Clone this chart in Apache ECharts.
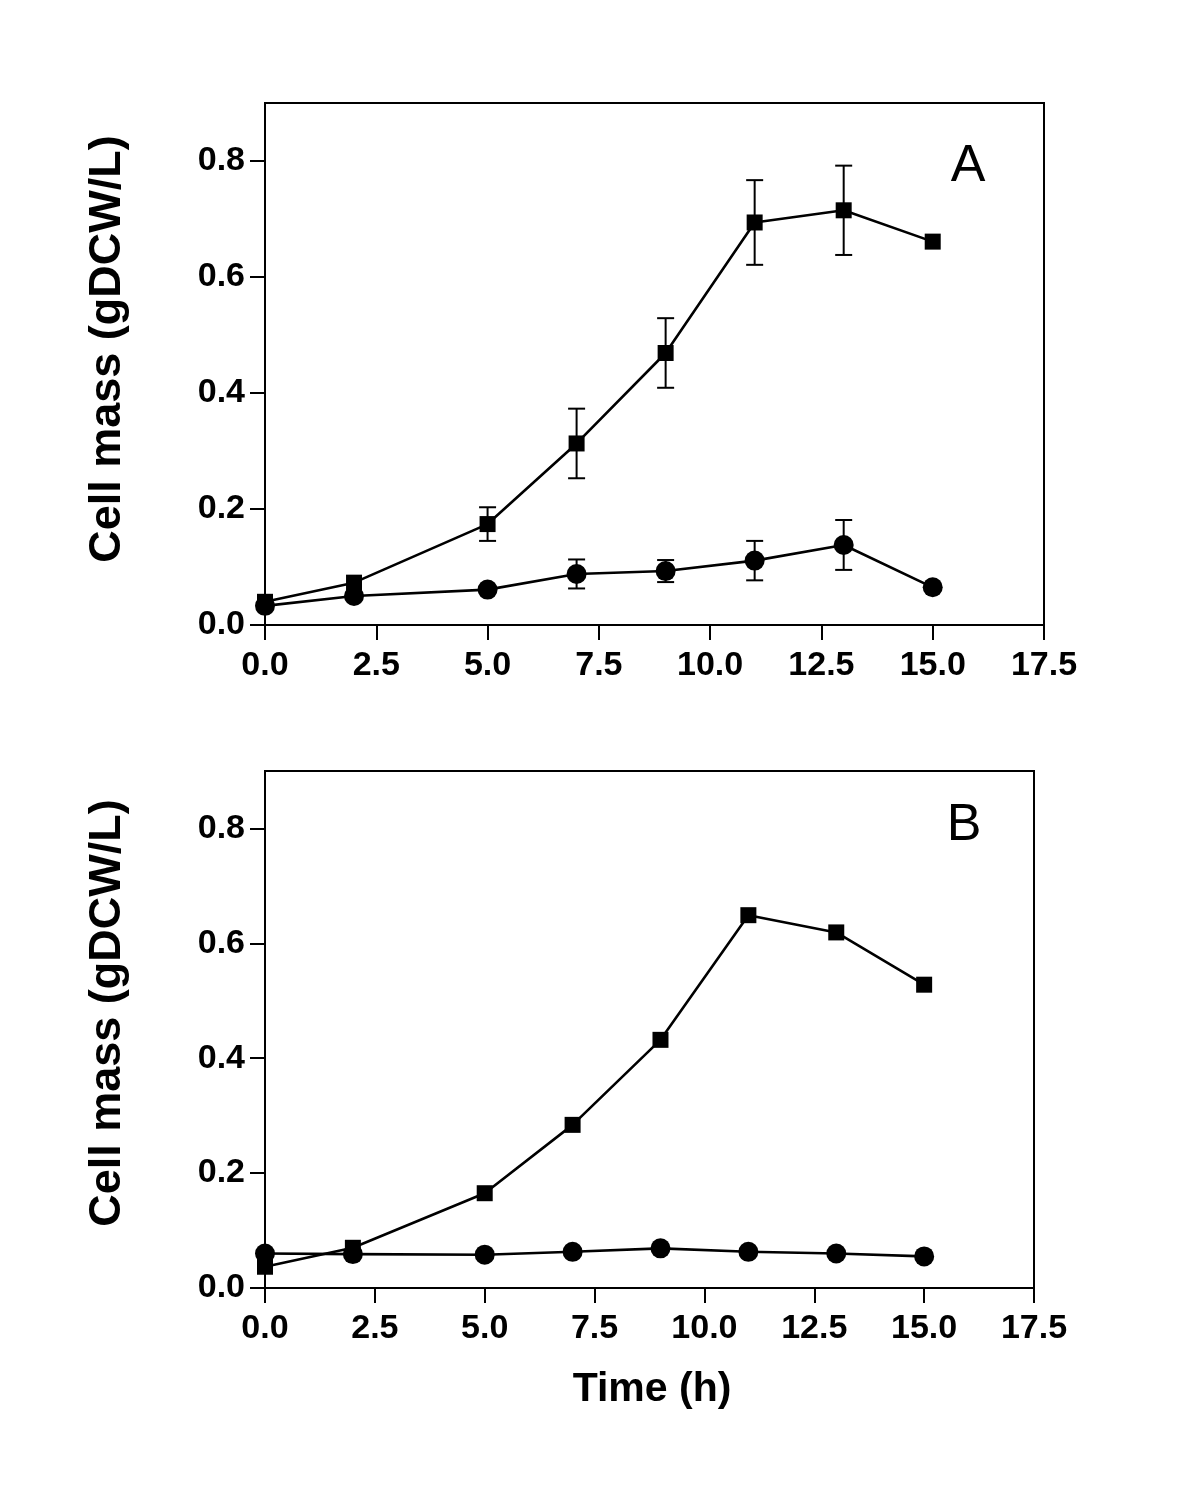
<!DOCTYPE html>
<html><head><meta charset="utf-8">
<script src="https://cdn.jsdelivr.net/npm/echarts@6/dist/echarts.min.js"></script>
<style>html,body{margin:0;padding:0;background:#fff}#c{width:1200px;height:1497px}</style>
</head><body><div id="c"></div>
<script>
// ---- data ----
const time = [0, 2, 5, 7, 9, 11, 13, 15];
const aSquare    = [0.040, 0.073, 0.174, 0.313, 0.469, 0.694, 0.715, 0.661];
const aSquareErr = [0, 0, 0.029, 0.060, 0.060, 0.073, 0.077, 0];
const aCircle    = [0.033, 0.050, 0.061, 0.088, 0.093, 0.111, 0.138, 0.065];
const aCircleErr = [0, 0, 0, 0.025, 0.019, 0.034, 0.043, 0];
const bSquare    = [0.037, 0.070, 0.165, 0.284, 0.432, 0.649, 0.619, 0.528];
const bCircle    = [0.060, 0.059, 0.058, 0.063, 0.069, 0.063, 0.060, 0.055];
const xTicks = [0, 2.5, 5, 7.5, 10, 12.5, 15, 17.5];
const yTicks = [0, 0.2, 0.4, 0.6, 0.8];
const yTitle = 'Cell mass (gDCW/L)';
const xTitle = 'Time (h)';
const panelLabels = ['A', 'B'];

const FONT = "'Liberation Sans', Arial, Helvetica, sans-serif";
const chart = echarts.init(document.getElementById('c'), null, {renderer: 'canvas'});

function pts(vals) { return time.map((t, i) => [t, vals[i]]); }
function errPts(vals, errs) {
  return time.map((t, i) => [t, vals[i] - errs[i], vals[i] + errs[i]]).filter((d, i) => errs[i] > 0);
}
function errRender(params, api) {
  const x = api.value(0), lo = api.value(1), hi = api.value(2);
  const p1 = api.coord([x, lo]), p2 = api.coord([x, hi]);
  const hw = 8.5;
  const st = {stroke: '#000', lineWidth: 2};
  return {type: 'group', children: [
    {type: 'line', shape: {x1: p1[0], y1: p1[1], x2: p2[0], y2: p2[1]}, style: st},
    {type: 'line', shape: {x1: p1[0] - hw, y1: p1[1], x2: p1[0] + hw, y2: p1[1]}, style: st},
    {type: 'line', shape: {x1: p2[0] - hw, y1: p2[1], x2: p2[0] + hw, y2: p2[1]}, style: st}
  ]};
}
function xAxis(gi) {
  return {
    type: 'value', gridIndex: gi, min: xTicks[0], max: xTicks[xTicks.length - 1], interval: 2.5,
    axisLine: {show: true, onZero: false, lineStyle: {color: '#000', width: 2}},
    axisTick: {show: true, length: 15, lineStyle: {color: '#000', width: 2}},
    axisLabel: {color: '#000', fontSize: 34, fontWeight: 'bold', fontFamily: FONT, margin: 24,
      formatter: v => v.toFixed(1)},
    splitLine: {show: false}
  };
}
function yAxis(gi) {
  return {
    type: 'value', gridIndex: gi, min: 0, max: 0.9, interval: 0.2,
    axisLine: {show: true, onZero: false, lineStyle: {color: '#000', width: 2}},
    axisTick: {show: true, length: 15, lineStyle: {color: '#000', width: 2}, customValues: yTicks},
    axisLabel: {color: '#000', fontSize: 34, fontWeight: 'bold', fontFamily: FONT, margin: 20,
      customValues: yTicks, formatter: v => v.toFixed(1)},
    splitLine: {show: false}
  };
}
function lineSeries(gi, vals, sym, size, z) {
  return {
    type: 'line', xAxisIndex: gi, yAxisIndex: gi, data: pts(vals),
    symbol: sym, symbolSize: size, showSymbol: true,
    lineStyle: {color: '#000', width: 2.6}, itemStyle: {color: '#000'},
    z: z, animation: false, silent: true
  };
}
function errSeries(gi, vals, errs) {
  return {
    type: 'custom', xAxisIndex: gi, yAxisIndex: gi, data: errPts(vals, errs),
    renderItem: errRender, encode: {x: 0, y: [1, 2]}, z: 1, animation: false, silent: true
  };
}

const option = {
  backgroundColor: '#fff',
  animation: false,
  grid: [
    {left: 265, right: 156, top: 103, height: 522, show: true, borderColor: '#000', borderWidth: 2, backgroundColor: 'transparent'},
    {left: 265, right: 166, top: 771, height: 517, show: true, borderColor: '#000', borderWidth: 2, backgroundColor: 'transparent'}
  ],
  xAxis: [xAxis(0), xAxis(1)],
  yAxis: [yAxis(0), yAxis(1)],
  series: [
    errSeries(0, aSquare, aSquareErr),
    errSeries(0, aCircle, aCircleErr),
    lineSeries(0, aSquare, 'rect', 16, 2),
    lineSeries(0, aCircle, 'circle', 20, 3),
    lineSeries(1, bSquare, 'rect', 16, 2),
    lineSeries(1, bCircle, 'circle', 20, 3)
  ],
  graphic: [
    {type: 'text', x: 108, y: 349, rotation: Math.PI / 2,
      style: {text: yTitle, font: `bold 45px ${FONT}`, fill: '#000', align: 'center', verticalAlign: 'middle'}},
    {type: 'text', x: 108, y: 1013, rotation: Math.PI / 2,
      style: {text: yTitle, font: `bold 45px ${FONT}`, fill: '#000', align: 'center', verticalAlign: 'middle'}},
    {type: 'text', x: 652, y: 1390,
      style: {text: xTitle, font: `bold 41px ${FONT}`, fill: '#000', align: 'center', verticalAlign: 'middle'}},
    {type: 'text', x: 968, y: 167,
      style: {text: panelLabels[0], font: `52px ${FONT}`, fill: '#000', align: 'center', verticalAlign: 'middle'}},
    {type: 'text', x: 964, y: 826,
      style: {text: panelLabels[1], font: `52px ${FONT}`, fill: '#000', align: 'center', verticalAlign: 'middle'}}
  ]
};
chart.setOption(option);
</script>
</body></html>
